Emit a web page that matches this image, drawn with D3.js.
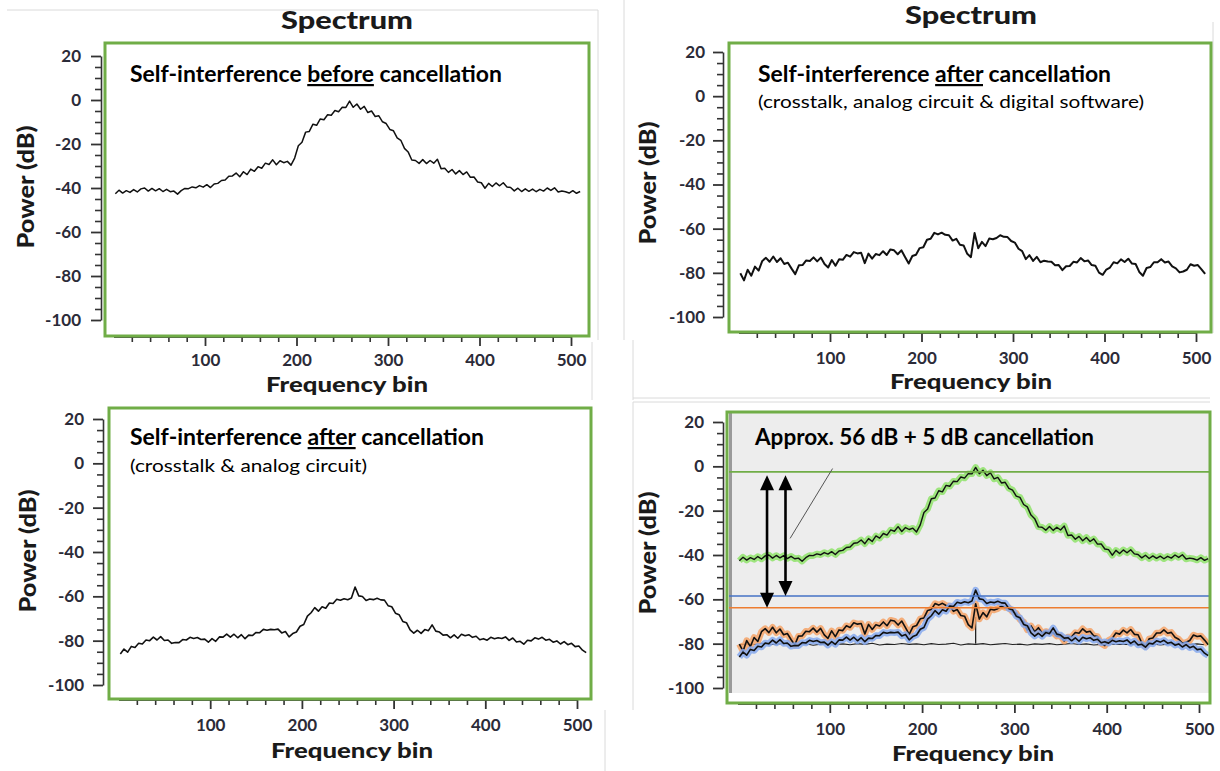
<!DOCTYPE html>
<html><head><meta charset="utf-8">
<script src="https://cdn.jsdelivr.net/npm/d3@7"></script>
<style>body{margin:0;background:#fff}svg{display:block}</style>
</head><body>
<script>
// ---------- DATA ----------
const bins = d3.range(2, 512, 4); // frequency bin positions of samples
const beforeCancel = [
-42.6,-41.0,-42.3,-41.2,-42.0,-40.7,-41.8,-40.4,-40.0,-41.4,-40.2,-41.3,-40.3,-41.6,-40.6,-41.7,
-41.4,-42.8,-41.2,-40.2,-40.3,-39.5,-39.9,-38.9,-39.6,-38.5,-39.8,-38.2,-37.9,-36.6,-36.4,-34.7,
-34.5,-33.2,-34.9,-32.6,-33.9,-31.4,-32.4,-30.3,-31.0,-28.7,-29.3,-27.2,-29.4,-27.6,-28.5,-27.9,
-29.6,-26.4,-20.8,-19.2,-14.6,-14.3,-11.0,-11.5,-8.6,-9.0,-6.7,-6.9,-4.8,-5.3,-3.3,-3.4,
-0.5,-3.3,-1.8,-4.2,-2.9,-5.7,-5.0,-7.5,-7.2,-9.9,-10.7,-13.4,-14.0,-17.2,-18.3,-22.0,
-23.6,-27.3,-27.5,-28.8,-27.1,-28.9,-27.5,-28.7,-26.9,-31.2,-31.0,-32.9,-31.6,-33.6,-32.1,-33.9,
-32.7,-35.1,-35.0,-37.3,-37.6,-40.1,-37.9,-39.3,-37.7,-39.0,-37.6,-39.5,-39.8,-41.3,-40.1,-41.6,
-40.4,-41.5,-40.5,-41.7,-40.6,-41.4,-40.0,-41.1,-39.9,-41.8,-41.4,-41.7,-42.3,-41.2,-42.4,-41.6];
const afterDigital = [
-80.2,-83.4,-78.6,-81.3,-77.2,-79.0,-74.6,-73.2,-75.0,-72.6,-75.1,-73.4,-76.0,-75.4,-78.1,-80.6,
-76.6,-76.5,-74.4,-74.6,-73.0,-74.8,-73.1,-76.0,-77.6,-74.2,-76.8,-73.8,-74.1,-71.9,-72.7,-70.6,
-71.2,-70.9,-75.6,-71.3,-73.6,-71.5,-72.0,-70.2,-71.9,-69.4,-69.8,-71.6,-69.8,-72.8,-75.8,-72.4,
-71.8,-68.8,-68.4,-65.0,-64.6,-61.9,-62.6,-61.8,-62.8,-63.0,-65.4,-64.6,-67.3,-67.6,-71.4,-72.9,
-62.0,-68.9,-66.0,-67.9,-64.5,-64.8,-64.2,-63.0,-63.7,-63.8,-65.6,-66.3,-69.1,-70.2,-73.8,-72.0,
-74.6,-72.8,-75.2,-74.5,-74.9,-75.0,-76.6,-76.5,-78.8,-77.0,-76.9,-75.0,-75.3,-73.3,-74.8,-74.4,
-76.5,-76.8,-79.9,-80.9,-78.5,-77.6,-75.2,-75.7,-73.9,-75.1,-73.6,-75.8,-76.0,-79.6,-81.3,-77.8,
-77.4,-75.2,-75.2,-73.8,-75.3,-74.9,-77.1,-78.0,-79.8,-79.4,-78.6,-76.1,-76.8,-76.5,-78.4,-80.5];
const afterAnalog = [
-86.0,-83.8,-85.2,-82.6,-83.1,-81.2,-81.5,-79.7,-80.0,-78.4,-79.7,-78.2,-79.9,-79.7,-81.2,-80.8,
-80.9,-79.5,-79.7,-78.5,-79.0,-78.6,-79.5,-79.3,-80.7,-79.1,-80.3,-78.3,-78.4,-77.0,-78.4,-77.1,
-78.7,-77.3,-79.1,-77.5,-77.7,-76.3,-76.4,-74.9,-75.3,-74.9,-75.1,-74.8,-76.5,-75.9,-78.3,-76.8,
-76.1,-73.5,-72.7,-68.9,-67.4,-65.1,-66.7,-64.7,-65.4,-63.0,-63.2,-61.3,-61.8,-61.1,-61.5,-60.8,
-55.8,-59.8,-60.1,-61.9,-61.2,-61.5,-60.9,-61.6,-61.7,-64.2,-64.7,-67.6,-68.3,-71.3,-71.9,-75.1,
-76.6,-75.3,-76.7,-75.0,-75.5,-72.9,-75.7,-76.1,-77.5,-77.3,-78.7,-77.4,-78.9,-77.1,-77.8,-77.3,
-78.5,-78.0,-79.6,-79.1,-79.8,-78.5,-79.1,-78.7,-79.0,-78.3,-79.9,-78.8,-80.6,-80.3,-81.6,-79.8,
-80.1,-78.7,-79.3,-78.5,-79.8,-79.4,-80.7,-80.1,-81.5,-80.4,-81.8,-81.2,-82.7,-82.4,-84.3,-85.4];
const noiseBins = d3.range(2, 512, 8);
const noiseFloor = [
-80.6,-80.1,-80.4,-79.8,-80.5,-80.2,-79.9,-80.6,-80.3,-80.0,-80.7,-80.2,-79.9,-80.4,-80.1,-80.5,
-80.0,-80.3,-79.8,-80.6,-80.2,-80.4,-79.9,-80.3,-80.1,-80.5,-80.0,-80.4,-80.2,-79.8,-80.6,-80.1,
-80.3,-80.0,-80.5,-80.2,-79.9,-80.4,-80.2,-80.6,-80.1,-80.3,-80.0,-80.5,-80.2,-79.9,-80.4,-80.1,
-80.6,-80.3,-80.0,-80.4,-80.2,-80.5,-79.9,-80.3,-80.1,-80.6,-80.2,-80.0,-80.4,-80.3,-80.1,-80.5];
const noiseSpike = {bin: 258, top: -68, base: -80};
const yTicks = [20, 0, -20, -40, -60, -80, -100];
const yMinor = d3.range(-100, 21, 5).filter(v => v % 20 !== 0);
const xTicks = [100, 200, 300, 400, 500];
const xMinor = d3.range(20, 512, 20).filter(v => v % 100 !== 0);
const refBefore = -2.5, refAnalog = -58.5, refDigital = -63.8;
const arrowBins = [32, 52], arrowTopDb = -4;
const pointer = {from: [103, -1], to: [57, -32.5]};

// ---------- LAYOUT ----------
const W = 1220, H = 771;
const svg = d3.select("body").append("svg").attr("width", W).attr("height", H);
const FONT = "Lato, 'Open Sans', sans-serif";
const GREEN = "#70ad47";

// faint frame lines of the composed figure
const frames = [[7,10,598,10],[598,10,598,340],[592,342,592,400],[624,0,624,340],[633,340,633,400],
  [1213,22,1213,333],[633,398,1210,398],[633,402,1210,402],[633,402,633,710],[605,710,605,771]];
svg.append("g").selectAll("line").data(frames).join("line")
  .attr("x1",d=>d[0]).attr("y1",d=>d[1]).attr("x2",d=>d[2]).attr("y2",d=>d[3])
  .attr("stroke","#dadada").attr("stroke-width",1);

const panels = [
  {box:[105,43,589,336], xr:[113.5,571], yr:[56,320], axisX:101, yLabX:81, xLabY:366,
   title:[347,29,132], xTitle:[347,392], yTitle:[34,187]},
  {box:[729,43,1211,332], xr:[738.5,1196], yr:[52,317], axisX:723, yLabX:705, xLabY:364,
   title:[971,24,132], xTitle:[971,389], yTitle:[656,183]},
  {box:[109,408,591,699], xr:[118.5,577], yr:[419,685], axisX:103, yLabX:84, xLabY:731,
   title:null, xTitle:[352,758], yTitle:[36,551]},
  {box:[727,412,1210,703], xr:[737.5,1199], yr:[422,688], axisX:723, yLabX:704, xLabY:735,
   title:null, xTitle:[973,761], yTitle:[656,553], grey:true}
];

panels.forEach(p => {
  p.x = d3.scaleLinear().domain([0, 500]).range(p.xr);
  p.y = d3.scaleLinear().domain([20, -100]).range(p.yr);
  const g = svg.append("g");
  p.g = g;
  const [bx0, by0, bx1, by1] = p.box;
  if (p.grey) {
    g.append("rect").attr("x", bx0+2).attr("y", by0+1).attr("width", bx1-bx0-3).attr("height", by1-by0-11).attr("fill", "#ededed");
    g.append("rect").attr("x", bx0+2).attr("y", by0+1).attr("width", 3).attr("height", by1-by0-11).attr("fill", "#9a9a9a");
  }
  // y axis
  const ya = g.append("g").attr("transform", `translate(${p.axisX},0)`)
    .call(d3.axisLeft(p.y).tickValues(yTicks).tickSize(10).tickSizeOuter(0).tickPadding(4).tickFormat(d => String(d)));
  ya.select(".domain").attr("stroke", "#333").attr("stroke-width", 1.6);
  ya.selectAll(".tick line").attr("stroke", "#333").attr("stroke-width", 1.8);
  ya.selectAll("text").attr("x", p.yLabX - p.axisX).attr("font-family", FONT).attr("font-weight", 700)
    .attr("font-size", 17).attr("fill", "#2b2b38");
  const ym = g.append("g").attr("transform", `translate(${p.axisX},0)`)
    .call(d3.axisLeft(p.y).tickValues(yMinor).tickSize(6).tickSizeOuter(0).tickFormat(""));
  ym.select(".domain").remove();
  ym.selectAll(".tick line").attr("stroke", "#333").attr("stroke-width", 1.6);
  // x axis
  const xa = g.append("g").attr("transform", `translate(0,${by1+1})`)
    .call(d3.axisBottom(p.x).tickValues(xTicks).tickSize(9).tickSizeOuter(0).tickFormat(d => String(d)));
  xa.select(".domain").attr("stroke", "#444").attr("stroke-width", 1);
  xa.selectAll(".tick line").attr("stroke", "#333").attr("stroke-width", 1.8);
  xa.selectAll("text").attr("y", p.xLabY - by1 - 1).attr("dy", 0).attr("font-family", FONT).attr("font-weight", 700)
    .attr("font-size", 17).attr("fill", "#2b2b38");
  const xm = g.append("g").attr("transform", `translate(0,${by1+1})`)
    .call(d3.axisBottom(p.x).tickValues(xMinor).tickSize(5).tickSizeOuter(0).tickFormat(""));
  xm.select(".domain").remove();
  xm.selectAll(".tick line").attr("stroke", "#333").attr("stroke-width", 1.6);
  // titles
  if (p.title) g.append("text").attr("x", p.title[0]).attr("y", p.title[1]).attr("text-anchor", "middle")
    .attr("font-family", FONT).attr("font-weight", 900).attr("font-size", 25).attr("fill", "#1a1a1a")
    .attr("textLength", p.title[2]).attr("lengthAdjust", "spacingAndGlyphs").text("Spectrum");
  g.append("text").attr("x", p.xTitle[0]).attr("y", p.xTitle[1]).attr("text-anchor", "middle")
    .attr("font-family", FONT).attr("font-weight", 900).attr("font-size", 21).attr("fill", "#1a1a1a")
    .attr("textLength", 162).attr("lengthAdjust", "spacingAndGlyphs").text("Frequency bin");
  g.append("text").attr("transform", `translate(${p.yTitle[0]},${p.yTitle[1]}) rotate(-90)`).attr("text-anchor", "middle")
    .attr("font-family", FONT).attr("font-weight", 900).attr("font-size", 22).attr("fill", "#1a1a1a")
    .attr("textLength", 123).attr("lengthAdjust", "spacingAndGlyphs").text("Power (dB)");
});

function lineFor(p, xs) {
  return d3.line().x((d, i) => p.x(xs[i])).y(d => p.y(d));
}
function drawSeries(p, xs, vals, color, glow, w) {
  if (glow) p.g.append("path").attr("d", lineFor(p, xs)(vals)).attr("fill", "none")
    .attr("stroke", glow).attr("stroke-width", 6.5).attr("stroke-linejoin", "round").attr("stroke-opacity", 0.85);
  p.g.append("path").attr("d", lineFor(p, xs)(vals)).attr("fill", "none")
    .attr("stroke", color).attr("stroke-width", w).attr("stroke-linejoin", "round");
}

// panel 1-3 data
drawSeries(panels[0], bins, beforeCancel, "#111", null, 1.5);
drawSeries(panels[1], bins, afterDigital, "#111", null, 2.0);
drawSeries(panels[2], bins, afterAnalog, "#111", null, 1.6);

// panel 4 overlay
const p4 = panels[3];
drawSeries(p4, noiseBins, noiseFloor, "#222", null, 1.1);
p4.g.append("line").attr("x1", p4.x(noiseSpike.bin)).attr("x2", p4.x(noiseSpike.bin))
  .attr("y1", p4.y(noiseSpike.base)).attr("y2", p4.y(noiseSpike.top)).attr("stroke", "#222").attr("stroke-width", 1.3);
drawSeries(p4, bins, beforeCancel, "#111", "#8fe36a", 1.4);
drawSeries(p4, bins, afterDigital, "#111", "#f5a266", 1.6);
drawSeries(p4, bins, afterAnalog, "#111", "#86a9ef", 1.6);
const refs = [[refBefore, GREEN], [refAnalog, "#4472c4"], [refDigital, "#ed7d31"]];
refs.forEach(([v, c]) => p4.g.append("line").attr("x1", p4.box[0]+2).attr("x2", p4.box[2]-1)
  .attr("y1", p4.y(v)).attr("y2", p4.y(v)).attr("stroke", c).attr("stroke-width", 1.6));

// double arrows
function dblArrow(g, x, y1, y2) {
  const hw = 7, hh = 15;
  g.append("line").attr("x1", x).attr("x2", x).attr("y1", y1 + hh - 2).attr("y2", y2 - hh + 2)
    .attr("stroke", "#000").attr("stroke-width", 2.6);
  g.append("path").attr("d", `M${x},${y1} L${x-hw},${y1+hh} L${x+hw},${y1+hh} Z`).attr("fill", "#000");
  g.append("path").attr("d", `M${x},${y2} L${x-hw},${y2-hh} L${x+hw},${y2-hh} Z`).attr("fill", "#000");
}
dblArrow(p4.g, p4.x(arrowBins[0]), p4.y(arrowTopDb), p4.y(refDigital));
dblArrow(p4.g, p4.x(arrowBins[1]), p4.y(arrowTopDb), p4.y(refAnalog));
p4.g.append("line").attr("x1", p4.x(pointer.from[0])).attr("y1", p4.y(pointer.from[1]))
  .attr("x2", p4.x(pointer.to[0])).attr("y2", p4.y(pointer.to[1])).attr("stroke", "#555").attr("stroke-width", 1);

// green boxes
panels.forEach(p => {
  const [bx0, by0, bx1, by1] = p.box;
  p.g.append("rect").attr("x", bx0).attr("y", by0).attr("width", bx1-bx0).attr("height", by1-by0)
    .attr("fill", "none").attr("stroke", GREEN).attr("stroke-width", 3);
});

// annotations
function ann(x, y, len, size, weight, parts) {
  const t = svg.append("text").attr("x", x).attr("y", y).attr("font-family", FONT).attr("font-size", size)
    .attr("font-weight", weight).attr("fill", "#000").attr("textLength", len).attr("lengthAdjust", "spacingAndGlyphs");
  parts.forEach(([s, u]) => {
    const ts = t.append("tspan").text(s);
    if (u) ts.style("text-decoration", "underline");
  });
}
ann(130, 82, 372, 22, 700, [["Self-interference "], ["before", true], [" cancellation"]]);
ann(758, 82, 353, 22, 700, [["Self-interference "], ["after", true], [" cancellation"]]);
ann(758, 108, 386, 18, 400, [["(crosstalk, analog circuit & digital software)"]]);
ann(130, 445, 354, 22, 700, [["Self-interference "], ["after", true], [" cancellation"]]);
ann(130, 472, 237, 18, 400, [["(crosstalk & analog circuit)"]]);
ann(755, 445, 339, 22, 700, [["Approx. 56 dB + 5 dB cancellation"]]);
</script>
</body></html>
